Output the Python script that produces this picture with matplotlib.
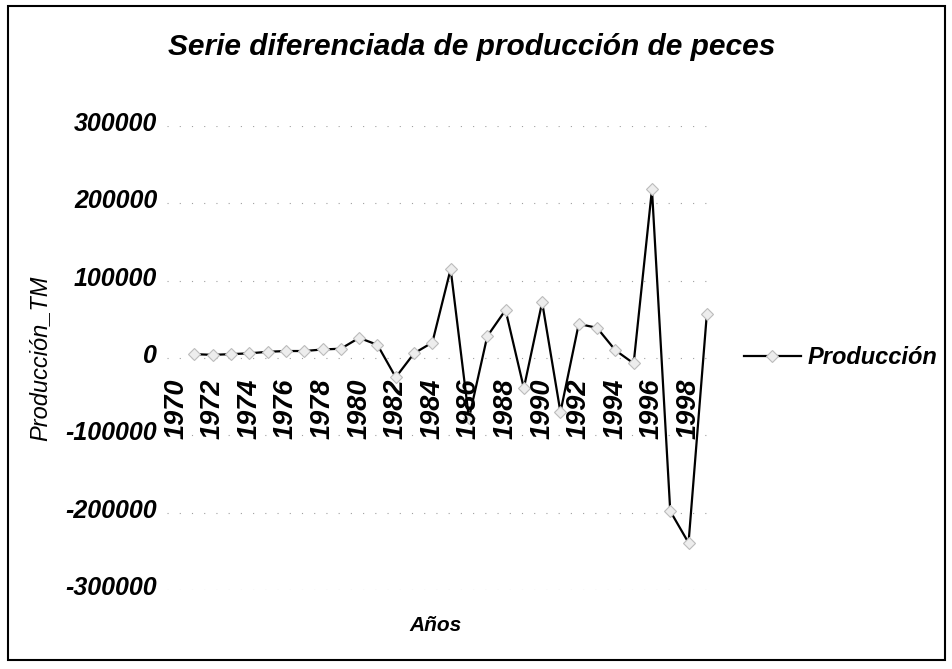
import matplotlib
matplotlib.use("Agg")
import matplotlib.pyplot as plt
from matplotlib.patches import Rectangle

# ---------- Data ----------

years = list(range(1971, 2000))
produccion_diff = [
    5000, 4000, 5000, 6000, 8000, 9000, 9000, 11000, 12000, 26000,
    17000, -25000, 6000, 20000, 115000, -78000, 28000, 62000, -39000, 72000,
    -70000, 44000, 39000, 10000, -7000, 218000, -198000, -239000, 57000,
]
year_ticks = list(range(1970, 1999, 2))
y_ticks = [-300000, -200000, -100000, 0, 100000, 200000, 300000]

FONT = "Liberation Sans"

# ---------- Plot ----------

fig = plt.figure(figsize=(9.52, 6.69), dpi=100)
ax = fig.add_axes([0.1754, 0.1181, 0.5767, 0.6936])

ax.plot(years, produccion_diff, color="black", lw=1.6,
        marker="D", ms=6, mfc="#ededed", mec="#bcbcbc", mew=0.8,
        label="Producción", zorder=3)

ax.set_xlim(1969.5, 1999.5)
ax.set_ylim(-300000, 300000)

# faint dotted gridlines
for yv in y_ticks:
    ax.axhline(yv, color="#a0a0a0", lw=0.8, ls=(0, (1, 10)), zorder=1)

for s in ax.spines.values():
    s.set_visible(False)
ax.tick_params(length=0)

# y labels drawn slightly above their gridlines
ax.set_yticks([])
for yv in y_ticks:
    ax.annotate(str(yv), xy=(0, yv), xycoords=("axes fraction", "data"),
                xytext=(-7, 1.5), textcoords="offset points",
                ha="right", va="center", fontsize=18, fontweight="bold",
                fontstyle="italic", family=FONT)

# year labels sit just under the zero line
ax.set_xticks([])
for yr in year_ticks:
    ax.text(yr, -26000, str(yr), rotation=90, ha="center", va="top",
            fontsize=19.5, fontweight="bold", fontstyle="italic", family=FONT)

ax.set_ylabel("Producción_TM", fontsize=17, fontstyle="italic", family=FONT)
ax.yaxis.set_label_coords(-0.21, 0.5)
ax.set_xlabel("Años", fontsize=15, fontweight="bold", fontstyle="italic",
              family=FONT)
ax.xaxis.set_label_coords(0.49, -0.055)

fig.text(0.495, 0.93, "Serie diferenciada de producción de peces",
         ha="center", va="center", fontsize=21.5, fontweight="bold",
         fontstyle="italic", family=FONT)

leg = ax.legend(loc="center left", bbox_to_anchor=(1.012, 0.5), frameon=False,
                handlelength=2.4, handletextpad=0.3,
                prop={"family": FONT, "size": 17, "weight": "bold",
                      "style": "italic"})

# outer chart frame
fig.patches.append(Rectangle((0.008, 0.013), 0.985, 0.978,
                             transform=fig.transFigure, fill=False,
                             edgecolor="black", lw=1.5))

fig.savefig("out.png", dpi=100)
